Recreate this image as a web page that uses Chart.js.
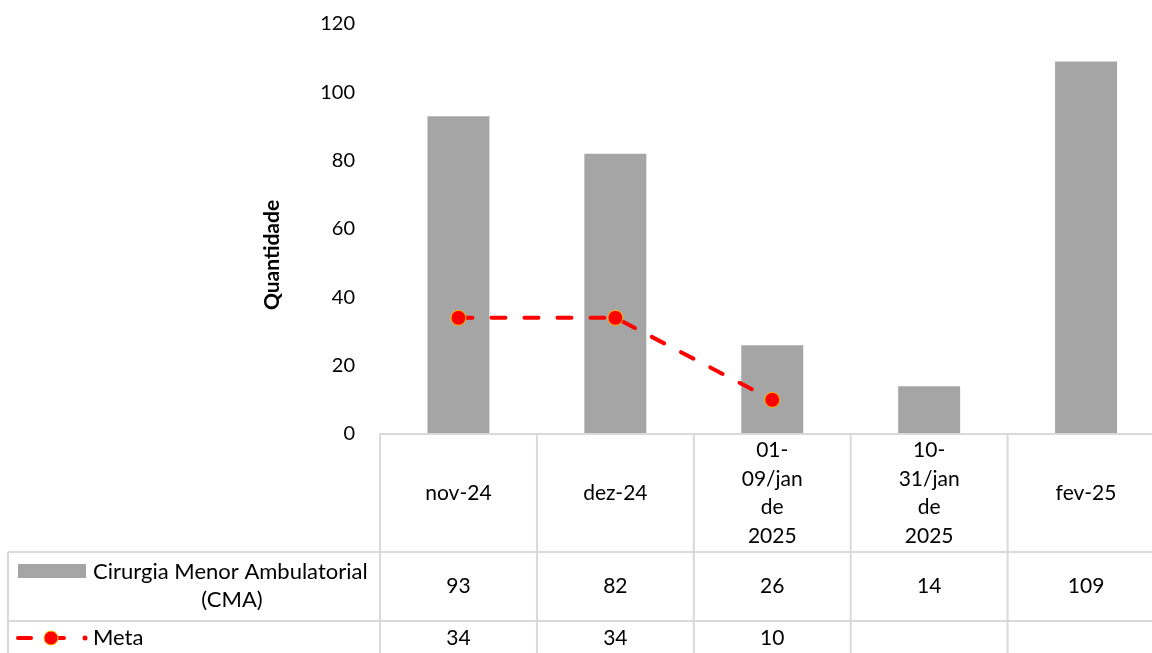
<!DOCTYPE html>
<html>
<head>
<meta charset="utf-8">
<script src="https://cdn.jsdelivr.net/npm/chart.js@4"></script>
<style>
  html, body { margin: 0; padding: 0; background: #fff; overflow: hidden; }
  #wrap { width: 1152px; height: 653px; overflow: hidden; position: relative; }
  #box { width: 1173px; height: 653px; position: absolute; left: 0; top: 0; }
</style>
</head>
<body>
<div id="wrap"><div id="box"><canvas id="chart"></canvas></div></div>
<script>
// categorias (linhas do cabeçalho da tabela)
const categories = [
  ['nov-24'],
  ['dez-24'],
  ['01-', '09/jan', 'de', '2025'],
  ['10-', '31/jan', 'de', '2025'],
  ['fev-25']
];
const cmaLabel = ['Cirurgia Menor Ambulatorial', '(CMA)'];
const cmaValues = [93, 82, 26, 14, 109];
const metaLabel = 'Meta';
const metaValues = [34, 34, 10, null, null];
const yTicks = [0, 20, 40, 60, 80, 100, 120];

const FONT = 'Lato, "Open Sans", sans-serif';
const GRID = '#D9D9D9';
const BAR = '#A5A5A5';
const RED = '#FF0000';

// tabela de dados abaixo do gráfico
const dataTable = {
  id: 'dataTable',
  afterDraw(chart) {
    const ctx = chart.ctx;
    const x = chart.scales.x;
    const area = chart.chartArea;
    const n = categories.length;
    const w = (x.right - x.left) / n;
    const top = area.bottom;
    const row1 = top + 118;
    const row2 = row1 + 69;
    const bottom = chart.height + 5;
    const leftEdge = 8;

    ctx.save();
    ctx.strokeStyle = GRID;
    ctx.lineWidth = 2;
    ctx.beginPath();
    ctx.moveTo(x.left, top); ctx.lineTo(x.right, top);
    ctx.moveTo(leftEdge, row1); ctx.lineTo(x.right, row1);
    ctx.moveTo(leftEdge, row2); ctx.lineTo(x.right, row2);
    ctx.moveTo(leftEdge, row1); ctx.lineTo(leftEdge, bottom);
    for (let i = 0; i <= n; i++) {
      const xx = x.left + i * w;
      ctx.moveTo(xx, top); ctx.lineTo(xx, bottom);
    }
    ctx.stroke();

    ctx.fillStyle = '#000';
    ctx.font = '21px ' + FONT;
    ctx.textAlign = 'center';
    ctx.textBaseline = 'middle';
    const lh = 28.5;
    categories.forEach((lines, i) => {
      const cx = x.getPixelForValue(i);
      const cy = (top + row1) / 2;
      lines.forEach((t, k) => {
        ctx.fillText(t, cx, cy + (k - (lines.length - 1) / 2) * lh);
      });
      ctx.fillText(String(cmaValues[i]), cx, (row1 + row2) / 2);
      if (metaValues[i] !== null) ctx.fillText(String(metaValues[i]), cx, row2 + 17);
    });

    // legenda das linhas
    ctx.fillStyle = BAR;
    ctx.fillRect(18, row1 + 12, 68, 14);
    ctx.fillStyle = '#000';
    ctx.textAlign = 'left';
    ctx.font = '22px ' + FONT;
    ctx.fillText(cmaLabel[0], 93, row1 + 20);
    ctx.textAlign = 'center';
    ctx.fillText(cmaLabel[1], 232, row1 + 48);

    const my = row2 + 17;
    ctx.strokeStyle = RED;
    ctx.lineWidth = 4;
    ctx.lineCap = 'round';
    ctx.beginPath();
    ctx.moveTo(18, my); ctx.lineTo(31, my);
    ctx.moveTo(47, my); ctx.lineTo(64, my);
    ctx.stroke();
    ctx.fillStyle = RED;
    ctx.beginPath(); ctx.arc(85, my, 2.5, 0, Math.PI * 2); ctx.fill();
    ctx.beginPath(); ctx.arc(51, my, 7, 0, Math.PI * 2); ctx.fill();
    ctx.strokeStyle = '#FFC000'; ctx.lineWidth = 1; ctx.stroke();
    ctx.fillStyle = '#000';
    ctx.textAlign = 'left';
    ctx.fillText(metaLabel, 93, my);

    // título do eixo
    ctx.save();
    ctx.translate(272, 255);
    ctx.rotate(-Math.PI / 2);
    ctx.textAlign = 'center';
    ctx.font = 'bold 21px ' + FONT;
    ctx.fillText('Quantidade', 0, 0);
    ctx.restore();
    ctx.restore();
  }
};

new Chart(document.getElementById('chart'), {
  data: {
    labels: categories.map(c => c.join(' ')),
    datasets: [
      {
        type: 'line',
        label: metaLabel,
        data: metaValues,
        order: 0,
        borderColor: RED,
        borderWidth: 4,
        borderDash: [14, 19],
        borderCapStyle: 'round',
        pointRadius: 7.5,
        pointBackgroundColor: RED,
        pointBorderColor: '#FFC000',
        pointBorderWidth: 1,
        spanGaps: false,
        tension: 0
      },
      {
        type: 'bar',
        label: cmaLabel.join(' '),
        data: cmaValues,
        order: 1,
        backgroundColor: BAR,
        barPercentage: 1,
        categoryPercentage: 0.395
      }
    ]
  },
  options: {
    responsive: true,
    maintainAspectRatio: false,
    animation: false,
    layout: { padding: { top: 24, bottom: 219, left: 0, right: 0 } },
    plugins: {
      legend: { display: false },
      tooltip: { enabled: false }
    },
    scales: {
      x: { display: false },
      y: {
        min: 0,
        max: 120,
        afterFit(scale) {
          scale.width = 380;
          scale.paddingTop = 0;
          scale.paddingBottom = 0;
        },
        afterBuildTicks(scale) { scale.ticks = yTicks.map(v => ({ value: v })); },
        grid: { display: false, drawTicks: false },
        border: { display: false },
        ticks: {
          padding: 25,
          color: '#000',
          font: { family: FONT, size: 20 }
        }
      }
    }
  },
  plugins: [dataTable]
});
</script>
</body>
</html>
